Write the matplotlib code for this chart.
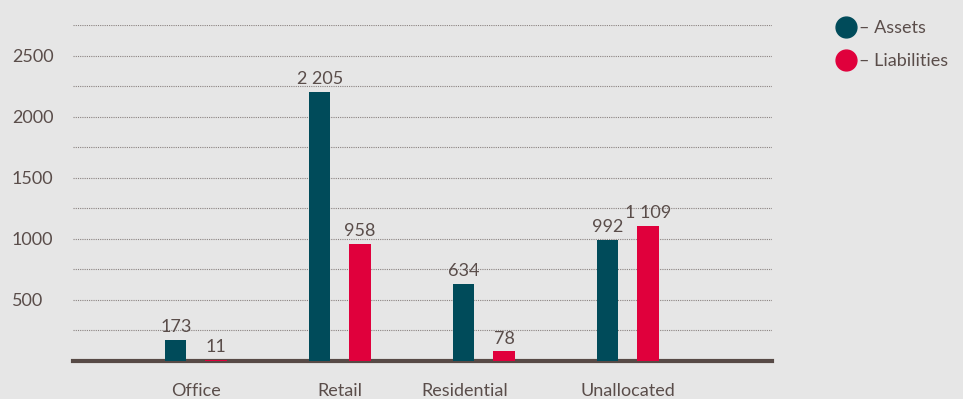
import matplotlib
matplotlib.use("Agg")
import matplotlib.pyplot as plt
from matplotlib.lines import Line2D
import matplotlib.transforms as mtransforms
import numpy as np

categories = ["Office", "Retail", "Residential", "Unallocated"]
assets = [173, 2205, 634, 992]
liabilities = [11, 958, 78, 1109]
asset_labels = ["173", "2 205", "634", "992"]
liab_labels = ["11", "958", "78", "1 109"]
yticks = [500, 1000, 1500, 2000, 2500]

TEAL = "#004B5A"
RED = "#E0003C"
BG = "#E6E6E6"
TXT = "#5A4D4A"

plt.rcParams['font.family'] = ['Lato', 'DejaVu Sans']
FS = 13

fig = plt.figure(figsize=(9.63, 3.99), dpi=100, facecolor=BG)
ax = fig.add_axes([73/963, 1-361/399, (772-73)/963, (361-25)/399])
ax.set_facecolor(BG)

x = np.arange(len(categories))
w = 0.146
off = 0.139
ax.bar(x - off, assets, w, color=TEAL, zorder=3)
ax.bar(x + off, liabilities, w, color=RED, zorder=3)

for xi, v, s in zip(x, assets, asset_labels):
    ax.text(xi - off, v + 40, s, ha='center', va='bottom', fontsize=FS, color=TXT)
for xi, v, s in zip(x, liabilities, liab_labels):
    ax.text(xi + off, v + 40, s, ha='center', va='bottom', fontsize=FS, color=TXT)

ax.set_xlim(-0.854, 4.0)
ax.set_ylim(0, 2750)
ax.set_yticks(yticks)
ax.set_yticklabels([str(t) for t in yticks], fontsize=FS, color=TXT, ha='left')
ax.set_yticks(np.arange(250, 2751, 250), minor=True)
ax.tick_params(axis='y', which='both', length=0, pad=44)
ax.yaxis.grid(True, which='both', linestyle=(0, (1, 1)), color='#8A8280', linewidth=0.8, zorder=0)

ax.set_xticks(x)
ax.set_xticklabels(categories, fontsize=FS, color=TXT)
ax.tick_params(axis='x', length=0, pad=16)
# the 'Residential' label sits slightly left of its group in the reference
lbl = ax.get_xticklabels()[2]
lbl.set_transform(lbl.get_transform() + mtransforms.ScaledTranslation(-19/100, 0, fig.dpi_scale_trans))

for s in ['top', 'right', 'left']:
    ax.spines[s].set_visible(False)
ax.spines['bottom'].set_color('#574A46')
ax.spines['bottom'].set_linewidth(3)
ax.spines['bottom'].set_zorder(2.5)

handles = [Line2D([], [], marker='o', linestyle='none', markersize=15, color=TEAL),
           Line2D([], [], marker='o', linestyle='none', markersize=15, color=RED)]
leg = fig.legend(handles, ["– Assets", "– Liabilities"], loc='upper left',
                 bbox_to_anchor=(835/963, 1-20/399), frameon=False,
                 handletextpad=0.15, labelspacing=0.95, handlelength=1.2,
                 borderaxespad=0, borderpad=0, prop={'size': FS})
for t in leg.get_texts():
    t.set_color(TXT)

fig.savefig("out.png", dpi=100, facecolor=BG)
